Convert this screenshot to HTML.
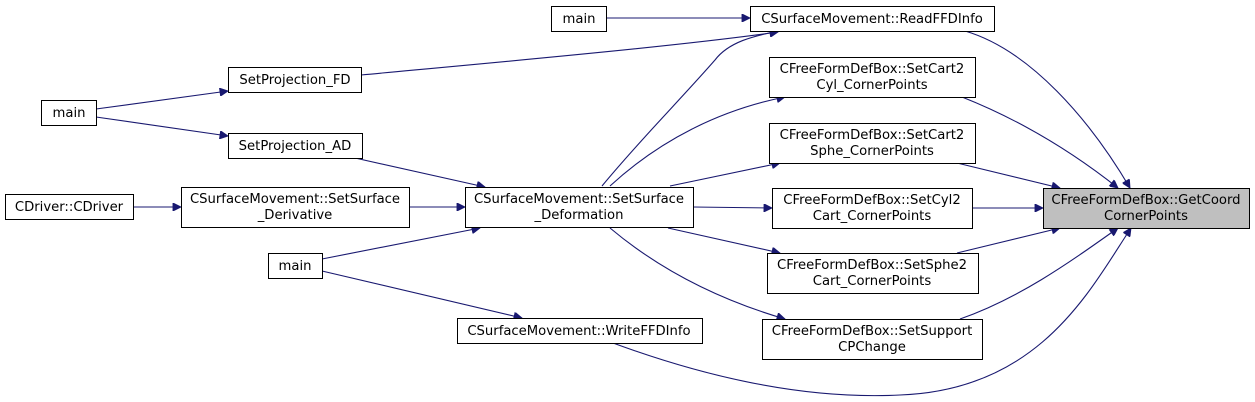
<!DOCTYPE html>
<html><head><meta charset="utf-8"><style>
html,body{margin:0;padding:0;background:#fff;}
svg{display:block}
text{font-family:"DejaVu Sans","Liberation Sans",sans-serif;font-size:13.2px;fill:#000;text-anchor:middle}
rect{fill:#fff;stroke:#000;stroke-width:1}
path{fill:none;stroke:#191970;stroke-width:1.1}
</style></head><body>
<svg width="1255" height="402" viewBox="0 0 1255 402" xmlns="http://www.w3.org/2000/svg">
<defs><marker id="a" viewBox="0 0 10 10" refX="10" refY="5" markerWidth="10" markerHeight="8" markerUnits="userSpaceOnUse" orient="auto"><path d="M0,0 L10,5 L0,10 z" style="fill:#191970;stroke:#191970"/></marker></defs>
<g>
<path d="M606,18 L750,18" marker-end="url(#a)"/>
<path d="M361,75 C500,62 680,46 778,32" marker-end="url(#a)"/>
<path d="M96,109 L228,91" marker-end="url(#a)"/>
<path d="M96,117 L228,136" marker-end="url(#a)"/>
<path d="M355,158 L485,187" marker-end="url(#a)"/>
<path d="M133,207 L181,207" marker-end="url(#a)"/>
<path d="M409,207 L465,207" marker-end="url(#a)"/>
<path d="M322,259 L480,228" marker-end="url(#a)"/>
<path d="M322,271 L522,318" marker-end="url(#a)"/>
<path d="M602,186 C640,140 680,100 715,60 C730,40 760,35 778,31" marker-end="url(#a)"/>
<path d="M610,186 C660,140 720,110 785,97" marker-end="url(#a)"/>
<path d="M670,186 L780,163" marker-end="url(#a)"/>
<path d="M693,207 L772,208" marker-end="url(#a)"/>
<path d="M668,228 L780,253" marker-end="url(#a)"/>
<path d="M610,228 C660,270 720,300 785,319" marker-end="url(#a)"/>
<path d="M965,31 C1030,50 1090,120 1130,188" marker-end="url(#a)"/>
<path d="M962,97 C1020,120 1070,150 1118,188" marker-end="url(#a)"/>
<path d="M957,163 L1060,188" marker-end="url(#a)"/>
<path d="M973,208 L1043,208" marker-end="url(#a)"/>
<path d="M957,253 L1060,228" marker-end="url(#a)"/>
<path d="M960,319 C1020,298 1070,262 1118,228" marker-end="url(#a)"/>
<path d="M613,343 C700,375 800,400 900,395 C1040,390 1090,290 1131,228" marker-end="url(#a)"/>
</g>
<rect x="551.5" y="6.5" width="55" height="25"/><text x="579" y="23">main</text>
<rect x="750.5" y="6.5" width="244" height="25"/><text x="872" y="23">CSurfaceMovement::ReadFFDInfo</text>
<rect x="228.5" y="67.5" width="133" height="25"/><text x="295" y="84">SetProjection_FD</text>
<rect x="41.5" y="100.5" width="55" height="25"/><text x="69" y="117">main</text>
<rect x="228.5" y="133.5" width="134" height="25"/><text x="295" y="150">SetProjection_AD</text>
<rect x="5.5" y="194.5" width="128" height="25"/><text x="69" y="211">CDriver::CDriver</text>
<rect x="181.5" y="187.5" width="228" height="40"/><text x="295" y="203">CSurfaceMovement::SetSurface</text><text x="295" y="219">_Derivative</text>
<rect x="465.5" y="187.5" width="228" height="40"/><text x="579" y="203">CSurfaceMovement::SetSurface</text><text x="579" y="219">_Deformation</text>
<rect x="268.5" y="253.5" width="54" height="25"/><text x="295" y="270">main</text>
<rect x="457.5" y="318.5" width="245" height="25"/><text x="579" y="335">CSurfaceMovement::WriteFFDInfo</text>
<rect x="769.5" y="57.5" width="206" height="40"/><text x="872" y="73">CFreeFormDefBox::SetCart2</text><text x="872" y="89">Cyl_CornerPoints</text>
<rect x="769.5" y="123.5" width="206" height="40"/><text x="872" y="139">CFreeFormDefBox::SetCart2</text><text x="872" y="155">Sphe_CornerPoints</text>
<rect x="772.5" y="188.5" width="200" height="40"/><text x="872" y="204">CFreeFormDefBox::SetCyl2</text><text x="872" y="220">Cart_CornerPoints</text>
<rect x="767.5" y="253.5" width="211" height="40"/><text x="872" y="269">CFreeFormDefBox::SetSphe2</text><text x="872" y="285">Cart_CornerPoints</text>
<rect x="762.5" y="319.5" width="220" height="40"/><text x="872" y="335">CFreeFormDefBox::SetSupport</text><text x="872" y="351">CPChange</text>
<rect x="1043.5" y="188.5" width="206" height="40" style="fill:#bfbfbf"/><text x="1146" y="204">CFreeFormDefBox::GetCoord</text><text x="1146" y="220">CornerPoints</text>
</svg>
</body></html>
